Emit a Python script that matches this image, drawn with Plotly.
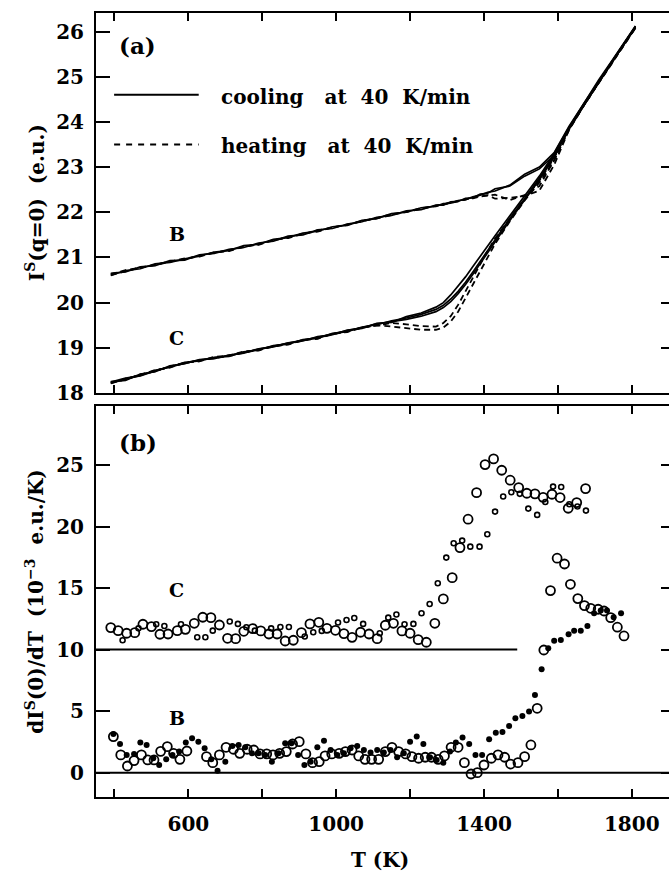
import plotly.graph_objects as go

# ---------------- data: panel (a) ----------------
T_curve = [390, 430, 470, 510, 550, 590, 630, 670, 710, 750, 790, 830, 870, 910, 950, 990,
           1030, 1070, 1110, 1150, 1190, 1230, 1270, 1290, 1310, 1330, 1350, 1370, 1390, 1410,
           1430, 1470, 1510, 1550, 1590, 1630, 1670, 1710, 1750, 1790, 1810]

B_cool1 = [20.60, 20.71, 20.75, 20.86, 20.89, 20.97, 21.03, 21.12, 21.15, 21.26, 21.29, 21.40, 21.44, 21.54, 21.58, 21.68,
           21.71, 21.82, 21.86, 21.97, 22.00, 22.10, 22.13, 22.19, 22.20, 22.26, 22.28, 22.34, 22.38, 22.44,
           22.47, 22.60, 22.84, 23.00, 23.32, 23.90, 24.40, 24.92, 25.40, 25.90, 26.12]
B_cool2 = [20.65, 20.68, 20.79, 20.82, 20.93, 20.94, 21.06, 21.09, 21.18, 21.22, 21.32, 21.36, 21.47, 21.50, 21.61, 21.64,
           21.74, 21.79, 21.89, 21.93, 22.03, 22.06, 22.16, 22.16, 22.23, 22.24, 22.31, 22.32, 22.40, 22.42,
           22.52, 22.58, 22.80, 22.96, 23.26, 23.85, 24.37, 24.88, 25.37, 25.86, 26.09]
B_heat1 = [20.63, 20.72, 20.77, 20.84, 20.91, 20.96, 21.04, 21.10, 21.16, 21.23, 21.30, 21.38, 21.45, 21.52, 21.60, 21.66,
           21.73, 21.80, 21.88, 21.95, 22.02, 22.08, 22.15, 22.18, 22.22, 22.25, 22.28, 22.33, 22.36, 22.38,
           22.30, 22.32, 22.36, 22.48, 23.05, 23.82, 24.36, 24.86, 25.36, 25.85, 26.08]
B_heat2 = [20.61, 20.69, 20.78, 20.83, 20.90, 20.98, 21.02, 21.11, 21.14, 21.24, 21.28, 21.39, 21.43, 21.53, 21.57, 21.67,
           21.72, 21.81, 21.87, 21.96, 22.01, 22.09, 22.14, 22.17, 22.21, 22.24, 22.29, 22.31, 22.35, 22.37,
           22.39, 22.27, 22.38, 22.58, 23.15, 23.86, 24.38, 24.88, 25.38, 25.87, 26.10]

C_cool1 = [18.22, 18.31, 18.39, 18.50, 18.57, 18.68, 18.71, 18.79, 18.81, 18.91, 18.95, 19.05, 19.08, 19.18, 19.21, 19.32,
           19.36, 19.46, 19.51, 19.60, 19.66, 19.74, 19.85, 19.94, 20.08, 20.25, 20.45, 20.68, 20.92, 21.16,
           21.40, 21.86, 22.30, 22.76, 23.25, 23.86, 24.38, 24.88, 25.38, 25.86, 26.10]
C_cool2 = [18.25, 18.28, 18.42, 18.47, 18.60, 18.65, 18.74, 18.76, 18.84, 18.88, 18.98, 19.02, 19.11, 19.15, 19.25, 19.29,
           19.39, 19.43, 19.54, 19.56, 19.69, 19.77, 19.90, 20.00, 20.17, 20.36, 20.57, 20.80, 21.03, 21.26,
           21.48, 21.92, 22.36, 22.80, 23.30, 23.88, 24.40, 24.90, 25.40, 25.88, 26.12]
C_cool3 = [18.24, 18.33, 18.38, 18.49, 18.58, 18.66, 18.73, 18.78, 18.83, 18.90, 18.97, 19.04, 19.10, 19.17, 19.23, 19.31,
           19.38, 19.45, 19.53, 19.58, 19.63, 19.70, 19.80, 19.89, 20.02, 20.20, 20.40, 20.63, 20.87, 21.11,
           21.36, 21.82, 22.27, 22.72, 23.22, 23.84, 24.36, 24.87, 25.36, 25.85, 26.09]
C_heat1 = [18.23, 18.30, 18.41, 18.48, 18.59, 18.67, 18.72, 18.77, 18.82, 18.89, 18.96, 19.03, 19.09, 19.16, 19.22, 19.30,
           19.37, 19.44, 19.50, 19.47, 19.43, 19.40, 19.40, 19.45, 19.58, 19.80, 20.10, 20.40, 20.73, 21.03,
           21.30, 21.80, 22.26, 22.66, 23.15, 23.82, 24.36, 24.86, 25.36, 25.85, 26.08]
C_heat2 = [18.21, 18.32, 18.40, 18.51, 18.56, 18.67, 18.70, 18.80, 18.83, 18.92, 18.94, 19.04, 19.07, 19.17, 19.20, 19.31,
           19.35, 19.45, 19.49, 19.55, 19.52, 19.48, 19.47, 19.55, 19.70, 19.95, 20.25, 20.55, 20.87, 21.15,
           21.42, 21.86, 22.30, 22.70, 23.20, 23.84, 24.37, 24.87, 25.37, 25.86, 26.09]

# ---------------- data: panel (b) ----------------
C_big_T = [390, 410, 433, 455, 477, 500, 523, 545, 570, 592, 616, 639, 661, 684, 706, 728, 750, 774, 796, 818,
           840, 862, 884, 906, 929, 953, 975, 998, 1021, 1043, 1066, 1089, 1111, 1133, 1155, 1178, 1200, 1222, 1244, 1267,
           1290, 1314, 1335, 1357, 1380, 1403, 1426, 1448, 1471, 1494, 1516, 1538, 1560, 1584, 1606, 1628, 1651, 1675]
C_big_v = [11.79, 11.54, 11.33, 11.38, 12.06, 11.87, 11.25, 11.27, 11.54, 11.65, 12.14, 12.63, 12.6, 12.0, 10.92, 10.89, 11.49, 11.71, 11.52, 11.27,
           11.27, 10.7, 10.76, 11.38, 12.09, 12.22, 11.73, 11.57, 11.3, 11.0, 11.41, 11.27, 10.89, 11.98, 12.14, 11.52, 11.33, 10.81, 10.6, 12.14,
           14.12, 15.85, 18.29, 20.6, 22.76, 25.04, 25.5, 24.58, 23.77, 23.17, 22.71, 22.66, 22.38, 22.63, 22.36, 21.49, 21.95, 23.09]

C_small_T = [422, 465, 513, 535, 580, 624, 646, 666, 712, 734, 757, 780, 824, 849, 872, 915, 938, 961, 1005, 1028,
             1049, 1073, 1118, 1141, 1163, 1185, 1209, 1231, 1253, 1275, 1298, 1318, 1341, 1363, 1388, 1409, 1430, 1452, 1474, 1497,
             1520, 1544, 1566, 1587, 1609, 1631, 1653, 1676]
C_small_v = [10.76, 11.73, 12.06, 11.92, 12.06, 11.0, 11.0, 11.54, 12.28, 12.09, 11.82, 11.54, 11.73, 11.84, 11.84, 11.06, 11.41, 11.52, 12.2, 12.41,
             12.57, 12.09, 11.33, 12.6, 12.85, 12.06, 12.09, 12.95, 13.71, 15.39, 17.48, 18.64, 18.86, 18.37, 18.37, 19.38, 21.22, 22.44, 22.79, 22.66,
             21.46, 20.95, 22.0, 23.25, 23.22, 21.82, 21.63, 21.3]

B_open_T = [397, 417, 435, 453, 473, 490, 507, 525, 543, 560, 577, 596, 649, 666, 684, 702, 722, 739, 759, 777,
            794, 812, 829, 847, 865, 882, 900, 918, 936, 954, 970, 988, 1008, 1025, 1043, 1061, 1078, 1096, 1115, 1133,
            1151, 1169, 1188, 1205, 1223, 1241, 1258, 1276, 1293, 1311, 1330, 1347, 1365, 1382, 1400, 1420, 1438, 1456, 1472, 1492,
            1510, 1527, 1544, 1562, 1580, 1598, 1618, 1634, 1654, 1672, 1689, 1709, 1725, 1743, 1761, 1779]
B_open_v = [2.93, 1.44, 0.54, 0.98, 1.44, 1.03, 1.03, 1.73, 2.11, 1.57, 1.08, 1.76, 1.3, 0.81, 1.44, 2.06, 1.9, 1.57, 1.9, 1.84,
            1.52, 1.52, 1.44, 1.57, 1.71, 2.33, 2.52, 1.52, 0.81, 0.89, 1.36, 1.52, 1.57, 1.71, 1.84, 1.36, 1.08, 1.08, 1.08, 1.71,
            2.06, 1.71, 1.52, 1.3, 1.17, 1.25, 1.25, 1.08, 1.36, 2.06, 2.06, 0.81, -0.11, 0.0, 0.62, 1.17, 1.44, 1.25, 0.7, 0.81,
            1.3, 2.25, 5.23, 9.97, 14.8, 17.43, 16.96, 15.31, 14.15, 13.58, 13.36, 13.28, 13.14, 12.6, 11.82, 11.11]

B_fill_T = [397, 415, 433, 453, 470, 487, 505, 521, 540, 557, 575, 593, 610, 627, 644, 662, 679, 700, 719, 736,
            754, 772, 790, 808, 826, 844, 862, 879, 897, 914, 931, 949, 967, 985, 1003, 1021, 1039, 1057, 1075, 1093,
            1111, 1129, 1147, 1165, 1183, 1200, 1218, 1236, 1254, 1272, 1290, 1308, 1324, 1342, 1360, 1377, 1395, 1414, 1432, 1450,
            1468, 1485, 1504, 1522, 1538, 1556, 1574, 1590, 1608, 1629, 1644, 1662, 1680, 1698, 1716, 1733, 1751, 1771]
B_fill_v = [3.14, 2.33, 1.44, 1.52, 2.44, 2.25, 1.17, 0.62, 1.08, 1.44, 1.71, 2.44, 2.79, 2.52, 1.98, 1.08, 0.16, 0.89, 2.17, 2.25,
            2.06, 1.57, 1.57, 1.44, 0.89, 1.57, 2.38, 2.38, 1.44, 0.62, 0.89, 2.06, 2.6, 1.84, 1.44, 1.57, 1.98, 2.17, 1.84, 1.63,
            1.84, 1.63, 1.84, 1.25, 1.57, 2.52, 2.93, 2.33, 1.25, 1.03, 0.81, 1.71, 2.44, 2.85, 2.33, 1.44, 1.44, 2.71, 3.25, 3.31,
            3.79, 4.42, 4.61, 4.96, 6.31, 8.4, 10.11, 10.73, 10.79, 11.25, 11.54, 11.54, 11.92, 12.95, 13.17, 13.17, 12.63, 12.95]

# baselines of panel (b)
base_C = 10
base_C_end = 1490
base_B = 0

x_range = [350, 1917]
x_tickvals = [400, 600, 800, 1000, 1200, 1400, 1600, 1800]
x_ticktext = ["", "600", "", "1000", "", "1400", "", "1800"]
ya_ticks = [18, 19, 20, 21, 22, 23, 24, 25, 26]
yb_ticks = [0, 5, 10, 15, 20, 25]

FONT = "DejaVu Serif"
fig = go.Figure()

# panel (a) curves
for arr in [B_cool1, B_cool2, C_cool1, C_cool2, C_cool3]:
    fig.add_trace(go.Scatter(x=T_curve, y=arr, mode="lines", xaxis="x2", yaxis="y2",
                             line=dict(color="black", width=1.7), showlegend=False, hoverinfo="skip"))
for arr in [B_heat1, B_heat2, C_heat1, C_heat2]:
    fig.add_trace(go.Scatter(x=T_curve, y=arr, mode="lines", xaxis="x2", yaxis="y2",
                             line=dict(color="black", width=1.8, dash="6px,4px"), showlegend=False, hoverinfo="skip"))

# panel (b) baselines
fig.add_trace(go.Scatter(x=[x_range[0], base_C_end], y=[base_C, base_C], mode="lines", xaxis="x", yaxis="y",
                         line=dict(color="black", width=2), showlegend=False, hoverinfo="skip"))
fig.add_trace(go.Scatter(x=x_range, y=[base_B, base_B], mode="lines", xaxis="x", yaxis="y",
                         line=dict(color="black", width=2), showlegend=False, hoverinfo="skip"))

# panel (b) markers
fig.add_trace(go.Scatter(x=C_small_T, y=C_small_v, mode="markers", xaxis="x", yaxis="y",
                         marker=dict(symbol="circle-open", size=5, color="black", line=dict(width=1.6)),
                         showlegend=False))
fig.add_trace(go.Scatter(x=C_big_T, y=C_big_v, mode="markers", xaxis="x", yaxis="y",
                         marker=dict(symbol="circle-open", size=9, color="black", line=dict(width=1.8)),
                         showlegend=False))
fig.add_trace(go.Scatter(x=B_fill_T, y=B_fill_v, mode="markers", xaxis="x", yaxis="y",
                         marker=dict(symbol="circle", size=6, color="black"),
                         showlegend=False))
fig.add_trace(go.Scatter(x=B_open_T, y=B_open_v, mode="markers", xaxis="x", yaxis="y",
                         marker=dict(symbol="circle-open", size=9, color="black", line=dict(width=1.8)),
                         showlegend=False))

tickfont = dict(family=FONT, size=20, color="black", weight="bold")
common_x = dict(range=x_range, tickvals=x_tickvals, ticktext=x_ticktext, ticks="inside",
                ticklen=8, tickwidth=2, tickcolor="black", showline=True, linewidth=2,
                linecolor="black", mirror="ticks", showgrid=False, zeroline=False, tickfont=tickfont)
common_y = dict(ticks="inside", ticklen=14, tickwidth=2, tickcolor="black", showline=True,
                linewidth=2, linecolor="black", mirror="ticks", showgrid=False, zeroline=False,
                tickfont=tickfont, ticklabelstandoff=6)

# the right frame of the original runs past the window edge: figure is 8px wider than the window
fig.update_layout(
    width=677, height=871, autosize=False,
    margin=dict(l=96, r=0, t=13, b=74),
    paper_bgcolor="white", plot_bgcolor="white",
    xaxis=dict(domain=[0, 1], anchor="y", ticklabelstandoff=8, **common_x),
    yaxis=dict(domain=[0, 0.4987], anchor="x", range=[-1.98, 29.8], tickvals=yb_ticks, **common_y),
    xaxis2=dict(domain=[0, 1], anchor="y2", matches="x", showticklabels=False, **common_x),
    yaxis2=dict(domain=[0.5153, 1], anchor="x2", range=[18, 26.41], tickvals=ya_ticks, **common_y),
)

# legend lines of panel (a)
fig.add_shape(type="line", xref="x2", yref="y2", x0=399, x1=628, y0=24.6, y1=24.6,
              line=dict(color="black", width=2))
fig.add_shape(type="line", xref="x2", yref="y2", x0=399, x1=628, y0=23.5, y1=23.5,
              line=dict(color="black", width=2, dash="6px,6px"))

def txt(x, y, s, xref, yref, size=20, xanchor="center", yanchor="middle", angle=0):
    fig.add_annotation(x=x, y=y, xref=xref, yref=yref, text=s, showarrow=False,
                       xanchor=xanchor, yanchor=yanchor, textangle=angle,
                       font=dict(family=FONT, size=size, color="black", weight="bold"))

sp = "\u00a0"
txt(683, 24.55, "cooling" + sp * 3 + "at" + sp * 2 + "40" + sp * 2 + "K/min", "x2", "y2", size=20, xanchor="left")
txt(683, 23.47, "heating" + sp * 3 + "at" + sp * 2 + "40" + sp * 2 + "K/min", "x2", "y2", size=20, xanchor="left")
txt(461, 25.68, "(a)", "x2", "y2", size=23)
txt(569, 21.52, "B", "x2", "y2", size=19)
txt(569, 19.22, "C", "x2", "y2", size=19)
txt(464, 26.8, "(b)", "x", "y", size=23)
txt(569, 14.85, "C", "x", "y", size=19)
txt(569, 4.45, "B", "x", "y", size=19)

# axis titles
txt(-0.105, 0.7577, "I<sup>S</sup>(q=0)" + sp * 2 + "(e.u.)", "paper", "paper", size=20, angle=-90)
txt(-0.105, 0.2494, "dI<sup>S</sup>(0)/dT" + sp * 2 + "(10<sup>\u22123</sup>" + sp * 2 + "e.u./K)", "paper", "paper", size=20, angle=-90)
txt(0.4905, -0.0804, "T" + sp + "(K)", "paper", "paper", size=20)

# place the figure at the page's top-left corner, with no scrollbars
page_fix = "document.body.style.margin='0';document.body.style.overflow='hidden';"
fig.write_html("out.html", post_script=page_fix, config={"displayModeBar": False})
